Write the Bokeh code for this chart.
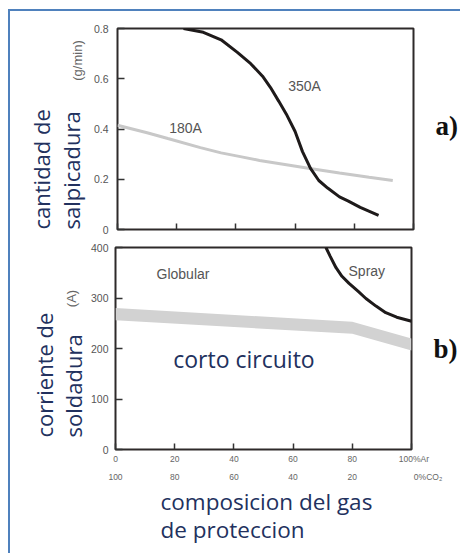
import math
from bokeh.plotting import figure
from bokeh.layouts import column, row
from bokeh.models import Range1d, FixedTicker, LinearAxis, Label, Title
from bokeh.core.properties import value
from bokeh.embed import file_html
from bokeh.resources import INLINE

# ---------------- data ----------------
# a) spatter amount (g/min) vs gas composition (%Ar)
x_350 = [22.3, 29, 35, 40.5, 45, 49, 51.7, 54.5, 57, 60, 62.5, 65.2, 68, 71, 75, 78, 82, 88.2]
y_350 = [0.800, 0.785, 0.755, 0.705, 0.66, 0.61, 0.565, 0.51, 0.46, 0.39, 0.31, 0.243, 0.195, 0.165, 0.13, 0.113, 0.088, 0.056]
x_180 = [0, 5, 10, 17, 28, 35, 41.5, 48, 56, 65, 75, 85, 93]
y_180 = [0.415, 0.40, 0.385, 0.362, 0.326, 0.305, 0.29, 0.275, 0.26, 0.243, 0.225, 0.208, 0.195]

# b) welding current (A) vs gas composition (%Ar)
x_band = [0, 80, 100]
band_low = [256, 229, 196]
band_high = [280, 253, 220]
x_spray = [71.1, 72.5, 74.5, 76.5, 78.9, 82, 84.6, 88, 91.3, 95, 100]
y_spray = [400, 383, 360, 343, 329, 313, 299, 284, 271, 262, 254]

x_ticks = [0, 20, 40, 60, 80, 100]
ar_labels = ["0", "20", "40", "60", "80", "\u00a0\u00a0100%Ar"]
co2_labels = ["100", "80", "60", "40", "20", "\u00a0" * 14 + "0%CO\u2082"]
ya_ticks = [0, 0.2, 0.4, 0.6, 0.8]
ya_labels = ["0", "0.2", "0.4", "0.6", "0.8"]
yb_ticks = [0, 100, 200, 300, 400]
yb_labels = ["0", "100", "200", "300", "400"]
panel_a_pos = [0.41]
panel_b_pos = [200]

NAVY = "#22315e"
FRAME = "#2e2a2a"
TICKC = "#555555"
SANS = "Open Sans"
SMALL = "Liberation Sans"
BIG = "22px"


def style_axes(p):
    p.grid.visible = False
    for ax in p.axis:
        ax.axis_line_color = None
        ax.major_tick_out = 0
        ax.minor_tick_line_color = None
        ax.major_tick_line_color = "#333333"
        ax.major_tick_line_width = 1.5
        ax.major_label_text_color = TICKC
        ax.major_label_text_font = SMALL


def panel_tag(p, pos, text):
    ax = LinearAxis(ticker=FixedTicker(ticks=pos), major_label_overrides=dict(zip(pos, [text])))
    ax.axis_line_color = None
    ax.major_tick_line_color = None
    ax.minor_tick_line_color = None
    ax.major_label_standoff = 16
    ax.major_label_text_font = "Liberation Serif"
    ax.major_label_text_font_style = "bold"
    ax.major_label_text_font_size = "27px"
    ax.major_label_text_color = "#111111"
    p.add_layout(ax, "right")


def text_panel(width, height, x0, frame_top, frame_bottom):
    """Blank side strip (page-pixel coordinates) that holds the rotated axis titles.
    Its frame is aligned by the row with the neighbouring plot's frame."""
    h = figure(width=width, height=height, x_range=Range1d(x0, x0 + width),
               y_range=Range1d(frame_bottom, frame_top), x_axis_type=None, y_axis_type=None,
               output_backend="svg", toolbar_location=None, min_border=0,
               outline_line_color=None, background_fill_color="white", border_fill_color="white")
    h.grid.visible = False
    return h


def vtext(h, x, y, text, size, color, font, align):
    h.text(x=[x], y=[y], text=[text], angle=math.pi / 2, text_align=align, text_baseline="middle",
           text_font=value(font), text_font_size=value(size), text_color=color)


# ---------------- top plot ----------------
h1 = text_panel(77, 227, 10, 28, 229)
vtext(h1, 40, 229, "cantidad de", BIG, NAVY, SANS, "left")
vtext(h1, 70.5, 229, "salpicadura", BIG, NAVY, SANS, "left")
vtext(h1, 77, 60, "(g/min)", "13px", "#666666", SMALL, "center")

p1 = figure(width=373, height=227, x_range=Range1d(0, 100), y_range=Range1d(0, 0.8),
            output_backend="svg", toolbar_location=None,
            min_border_left=30, min_border_right=47, min_border_top=17, min_border_bottom=9,
            background_fill_color="white", border_fill_color="white",
            outline_line_color=FRAME, outline_line_width=2, outline_line_alpha=1)
style_axes(p1)
p1.xaxis.ticker = FixedTicker(ticks=x_ticks)
p1.xaxis.major_tick_in = 6
p1.xaxis.major_label_overrides = {t: "" for t in x_ticks}
p1.xaxis.major_label_standoff = 0
p1.yaxis.ticker = FixedTicker(ticks=ya_ticks)
p1.yaxis.major_label_overrides = dict(zip(ya_ticks, ya_labels))
p1.yaxis.major_tick_in = 7
p1.yaxis.major_label_standoff = 9
p1.yaxis.major_label_text_font_size = "10.5px"

p1.line(x_180, y_180, line_color="#c8c8c8", line_width=3)
p1.line(x_350, y_350, line_color="#1e1a1a", line_width=3)

p1.add_layout(Label(x=63.2, y=0.573, text="350A", text_align="center", text_baseline="middle",
                    text_font=SMALL, text_font_size="14px", text_color="#555555"))
p1.add_layout(Label(x=23.0, y=0.402, text="180A", text_align="center", text_baseline="middle",
                    text_font=SMALL, text_font_size="14px", text_color="#555555"))
panel_tag(p1, panel_a_pos, "a)")

# ---------------- bottom plot ----------------
h2 = text_panel(77, 315, 10, 247, 449)
vtext(h2, 43, 437, "corriente de", BIG, NAVY, SANS, "left")
vtext(h2, 72, 437, "soldadura", BIG, NAVY, SANS, "left")
vtext(h2, 71, 298, "(A)", "13px", "#666666", SMALL, "center")

p2 = figure(width=373, height=315, x_range=Range1d(0, 100), y_range=Range1d(0, 400),
            output_backend="svg", toolbar_location=None,
            min_border_left=28, min_border_right=47, min_border_top=9, min_border_bottom=104,
            background_fill_color="white", border_fill_color="white",
            outline_line_color=FRAME, outline_line_width=2, outline_line_alpha=1)
ax2 = LinearAxis(ticker=FixedTicker(ticks=x_ticks), major_label_overrides=dict(zip(x_ticks, co2_labels)))
p2.add_layout(ax2, "below")
style_axes(p2)
p2.xaxis[0].ticker = FixedTicker(ticks=x_ticks)
p2.xaxis[0].major_label_overrides = dict(zip(x_ticks, ar_labels))
p2.xaxis[0].major_tick_in = 6
p2.xaxis[0].major_label_standoff = 4
ax2.major_tick_in = 0
ax2.major_tick_line_color = None
ax2.major_label_standoff = 5
for ax in p2.xaxis:
    ax.major_label_text_font_size = "8.5px"
    ax.major_label_text_color = "#666666"
p2.yaxis.ticker = FixedTicker(ticks=yb_ticks)
p2.yaxis.major_label_overrides = dict(zip(yb_ticks, yb_labels))
p2.yaxis.major_tick_in = 7
p2.yaxis.major_label_standoff = 7
p2.yaxis.major_label_text_font_size = "10.5px"

p2.varea(x=x_band, y1=band_low, y2=band_high, fill_color="#d2d2d2")
p2.line(x_spray, y_spray, line_color="#1e1a1a", line_width=3)

p2.add_layout(Label(x=22.8, y=348, text="Globular", text_align="center", text_baseline="middle",
                    text_font=SMALL, text_font_size="14px", text_color="#555555"))
p2.add_layout(Label(x=84.9, y=354, text="Spray", text_align="center", text_baseline="middle",
                    text_font=SMALL, text_font_size="14px", text_color="#555555"))
p2.add_layout(Label(x=19.5, y=180, text="corto circuito", text_align="left", text_baseline="middle",
                    text_font=SANS, text_font_size="23px", text_color=NAVY))
p2.add_layout(Title(text="composicion del gas\nde proteccion", align="left", offset=45, standoff=2,
                    vertical_align="top", text_font=SANS, text_font_size="22.5px", text_color=NAVY,
                    text_font_style="normal", text_line_height=0.92), "below")
panel_tag(p2, panel_b_pos, "b)")

layout = column(row(h1, p1, spacing=0), row(h2, p2, spacing=0), spacing=0,
                styles={"margin-left": "8px", "margin-top": "9px",
                        "border-left": "2px solid #4f81bd", "border-top": "2px solid #4f81bd"})

open("out.html", "w").write(file_html(layout, INLINE))
